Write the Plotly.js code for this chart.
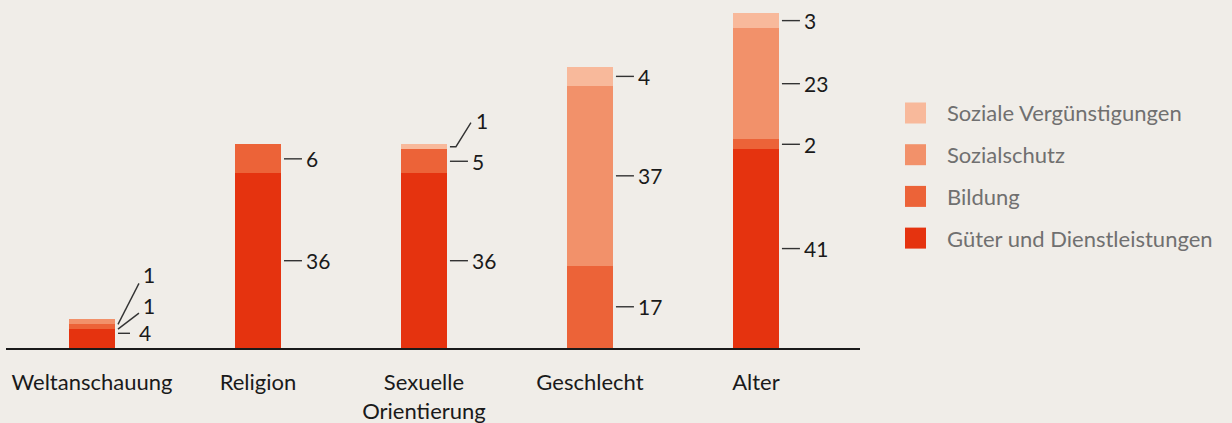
<!DOCTYPE html>
<html>
<head>
<meta charset="utf-8">
<script src="https://cdn.plot.ly/plotly-3.0.1.min.js"></script>
<style>
  html, body { margin: 0; padding: 0; background: #F0EDE8; }
  #chart { width: 1232px; height: 423px; }
</style>
</head>
<body>
<div id="chart"></div>
<script>
// ---- data ----
const categories = ['Weltanschauung', 'Religion', 'Sexuelle<br>Orientierung', 'Geschlecht', 'Alter'];
const seriesNames = ['Güter und Dienstleistungen', 'Bildung', 'Sozialschutz', 'Soziale Vergünstigungen'];
const gueter = [4, 36, 36, 0, 41];
const bildung = [1, 6, 5, 17, 2];
const sozialschutz = [1, 0, 0, 37, 23];
const sozialeVerg = [0, 0, 1, 4, 3];

// ---- styles ----
const colors = ['#E5330F', '#EC6338', '#F2916A', '#F8B99B'];
const bg = '#F0EDE8';
const font = 'Lato, "Open Sans", sans-serif';
const seriesValues = [gueter, bildung, sozialschutz, sozialeVerg];
const xIdx = categories.map((_, i) => i);
const leaderColor = '#333333';

// special leader-line layouts (pixel offsets from bar center / segment middle)
const specialLabels = {
  '0-0': { path: 'M26,5 L38,5', tx: 45, ty: 6 },
  '0-1': { path: 'M26,-3 L47,13', tx: 49, ty: 21 },
  '0-2': { path: 'M26,-3 L47,38', tx: 49, ty: 47 },
  '2-3': { path: 'M26,0 L32,0 L47,24', tx: 50, ty: 26 }
};

const traces = seriesNames.map((name, s) => ({
  type: 'bar',
  name: name,
  x: xIdx,
  y: seriesValues[s],
  width: 0.277,
  marker: { color: colors[s], line: { width: 0 } },
  hoverinfo: 'skip',
  showlegend: false
}));

const shapes = [];
const annotations = [];
xIdx.forEach(i => {
  let base = 0;
  seriesValues.forEach((vals, s) => {
    const v = vals[i];
    if (v > 0) {
      const mid = base + v / 2;
      const sp = specialLabels[i + '-' + s];
      if (sp) {
        shapes.push({ type: 'path', xref: 'x', yref: 'y', xsizemode: 'pixel', ysizemode: 'pixel',
          xanchor: i, yanchor: mid, path: sp.path, line: { color: leaderColor, width: 1.4 } });
        annotations.push({ x: i, y: mid, xref: 'x', yref: 'y', text: String(v), showarrow: false,
          xanchor: 'left', yanchor: 'middle', xshift: sp.tx, yshift: sp.ty,
          font: { family: font, size: 21, color: '#1a1a1a' } });
      } else {
        shapes.push({ type: 'line', xref: 'x', yref: 'y', xsizemode: 'pixel', ysizemode: 'pixel',
          xanchor: i, yanchor: mid, x0: 26, x1: 44, y0: 0, y1: 0, line: { color: leaderColor, width: 1.4 } });
        annotations.push({ x: i, y: mid, xref: 'x', yref: 'y', text: String(v), showarrow: false,
          xanchor: 'left', yanchor: 'middle', xshift: 46, yshift: 0,
          font: { family: font, size: 21, color: '#1a1a1a' } });
      }
    }
    base += v;
  });
});

// custom legend (reversed order, top = Soziale Vergünstigungen)
const plotL = 6, plotW = 854, plotH = 348;
const px2paperX = p => (p - plotL) / plotW;
const py2paperY = p => (plotH - p) / plotH;
const legendOrder = [3, 2, 1, 0];
legendOrder.forEach((s, k) => {
  const cy = 113 + k * 41.7;
  shapes.push({ type: 'rect', xref: 'paper', yref: 'paper',
    x0: px2paperX(905), x1: px2paperX(926), y0: py2paperY(cy + 10.5), y1: py2paperY(cy - 10.5),
    fillcolor: colors[s], line: { width: 0 } });
  annotations.push({ xref: 'paper', yref: 'paper', x: px2paperX(945), y: py2paperY(cy),
    text: seriesNames[s], showarrow: false, xanchor: 'left', yanchor: 'middle',
    font: { family: font, size: 22, color: '#707070' } });
});

const layout = {
  width: 1232, height: 423,
  paper_bgcolor: bg, plot_bgcolor: bg,
  barmode: 'stack',
  margin: { l: plotL, r: 1232 - plotL - plotW, t: 0, b: 423 - plotH },
  showlegend: false,
  xaxis: {
    range: [-0.518, 4.627],
    tickvals: xIdx, ticktext: categories,
    showline: true, linecolor: '#1a1a1a', linewidth: 1.5,
    showgrid: false, zeroline: false, ticks: '',
    ticklabelstandoff: 14,
    tickfont: { family: font, size: 22, color: '#1a1a1a' },
    fixedrange: true
  },
  yaxis: {
    range: [0, 71.75], visible: false, showgrid: false, zeroline: false, fixedrange: true
  },
  shapes: shapes,
  annotations: annotations
};

Plotly.newPlot('chart', traces, layout, { displayModeBar: false, staticPlot: true });
</script>
</body>
</html>
